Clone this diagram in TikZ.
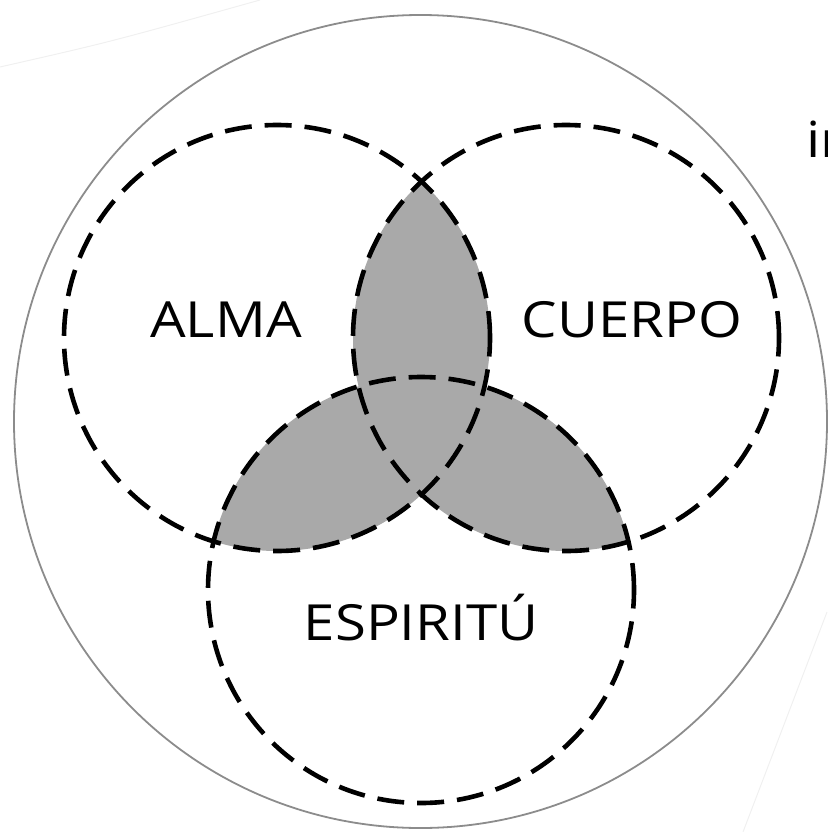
\documentclass[tikz,border=0pt]{standalone}
\usepackage{fontspec}
\setmainfont{Open Sans}
\newfontfamily\widefont[FakeStretch=1.13]{Open Sans}
\usepackage{tikz}
\definecolor{lensgray}{HTML}{A9A9A9}
\definecolor{rimgray}{HTML}{8C8C8C}

\begin{document}
\begin{tikzpicture}[
    x=1bp, y=-1bp,
    ring/.style={draw, line width=4.6bp, dash pattern=on 27bp off 13bp},
    rim/.style={draw=rimgray, line width=1.8bp},
    lbl/.style={font=\widefont\fontsize{50}{60}\selectfont, anchor=base, inner sep=0pt},
    ghost/.style={draw=black!6, line width=1bp}
  ]
    \useasboundingbox (0,0) rectangle (828,832);
    \clip (0,0) rectangle (828,832);
    \coordinate (alma) at (277,338);
    \coordinate (cuerpo) at (566,338);
    \coordinate (espiritu) at (421,590);
    \coordinate (whole) at (420.5,421.5);

    % overlaps in grey
    \begin{scope}
      \clip (alma) circle[radius=213bp];
      \fill[lensgray] (cuerpo) circle[radius=213bp];
      \fill[lensgray] (espiritu) circle[radius=213bp];
    \end{scope}
    \begin{scope}
      \clip (cuerpo) circle[radius=213bp];
      \fill[lensgray] (espiritu) circle[radius=213bp];
    \end{scope}

    \draw[ghost] (0,67) .. controls (110,42) .. (260,0);
    \draw[ghost] (827,612) -- (743,832);

    \draw[rim] (whole) circle[radius=406.5bp];
    \foreach \c in {alma,cuerpo,espiritu}
      \draw[ring] (\c) circle[radius=213bp];

    \node[lbl] (almaL) at (226,337) {ALMA};
    \node[lbl] (cuerpoL) at (632,337) {CUERPO};
    \node[lbl] (espirituL) at (421,640) {ESPIRITÚ};
    \node[lbl, anchor=base west] (cut) at (806,157) {in};
  \end{tikzpicture}
\end{document}
